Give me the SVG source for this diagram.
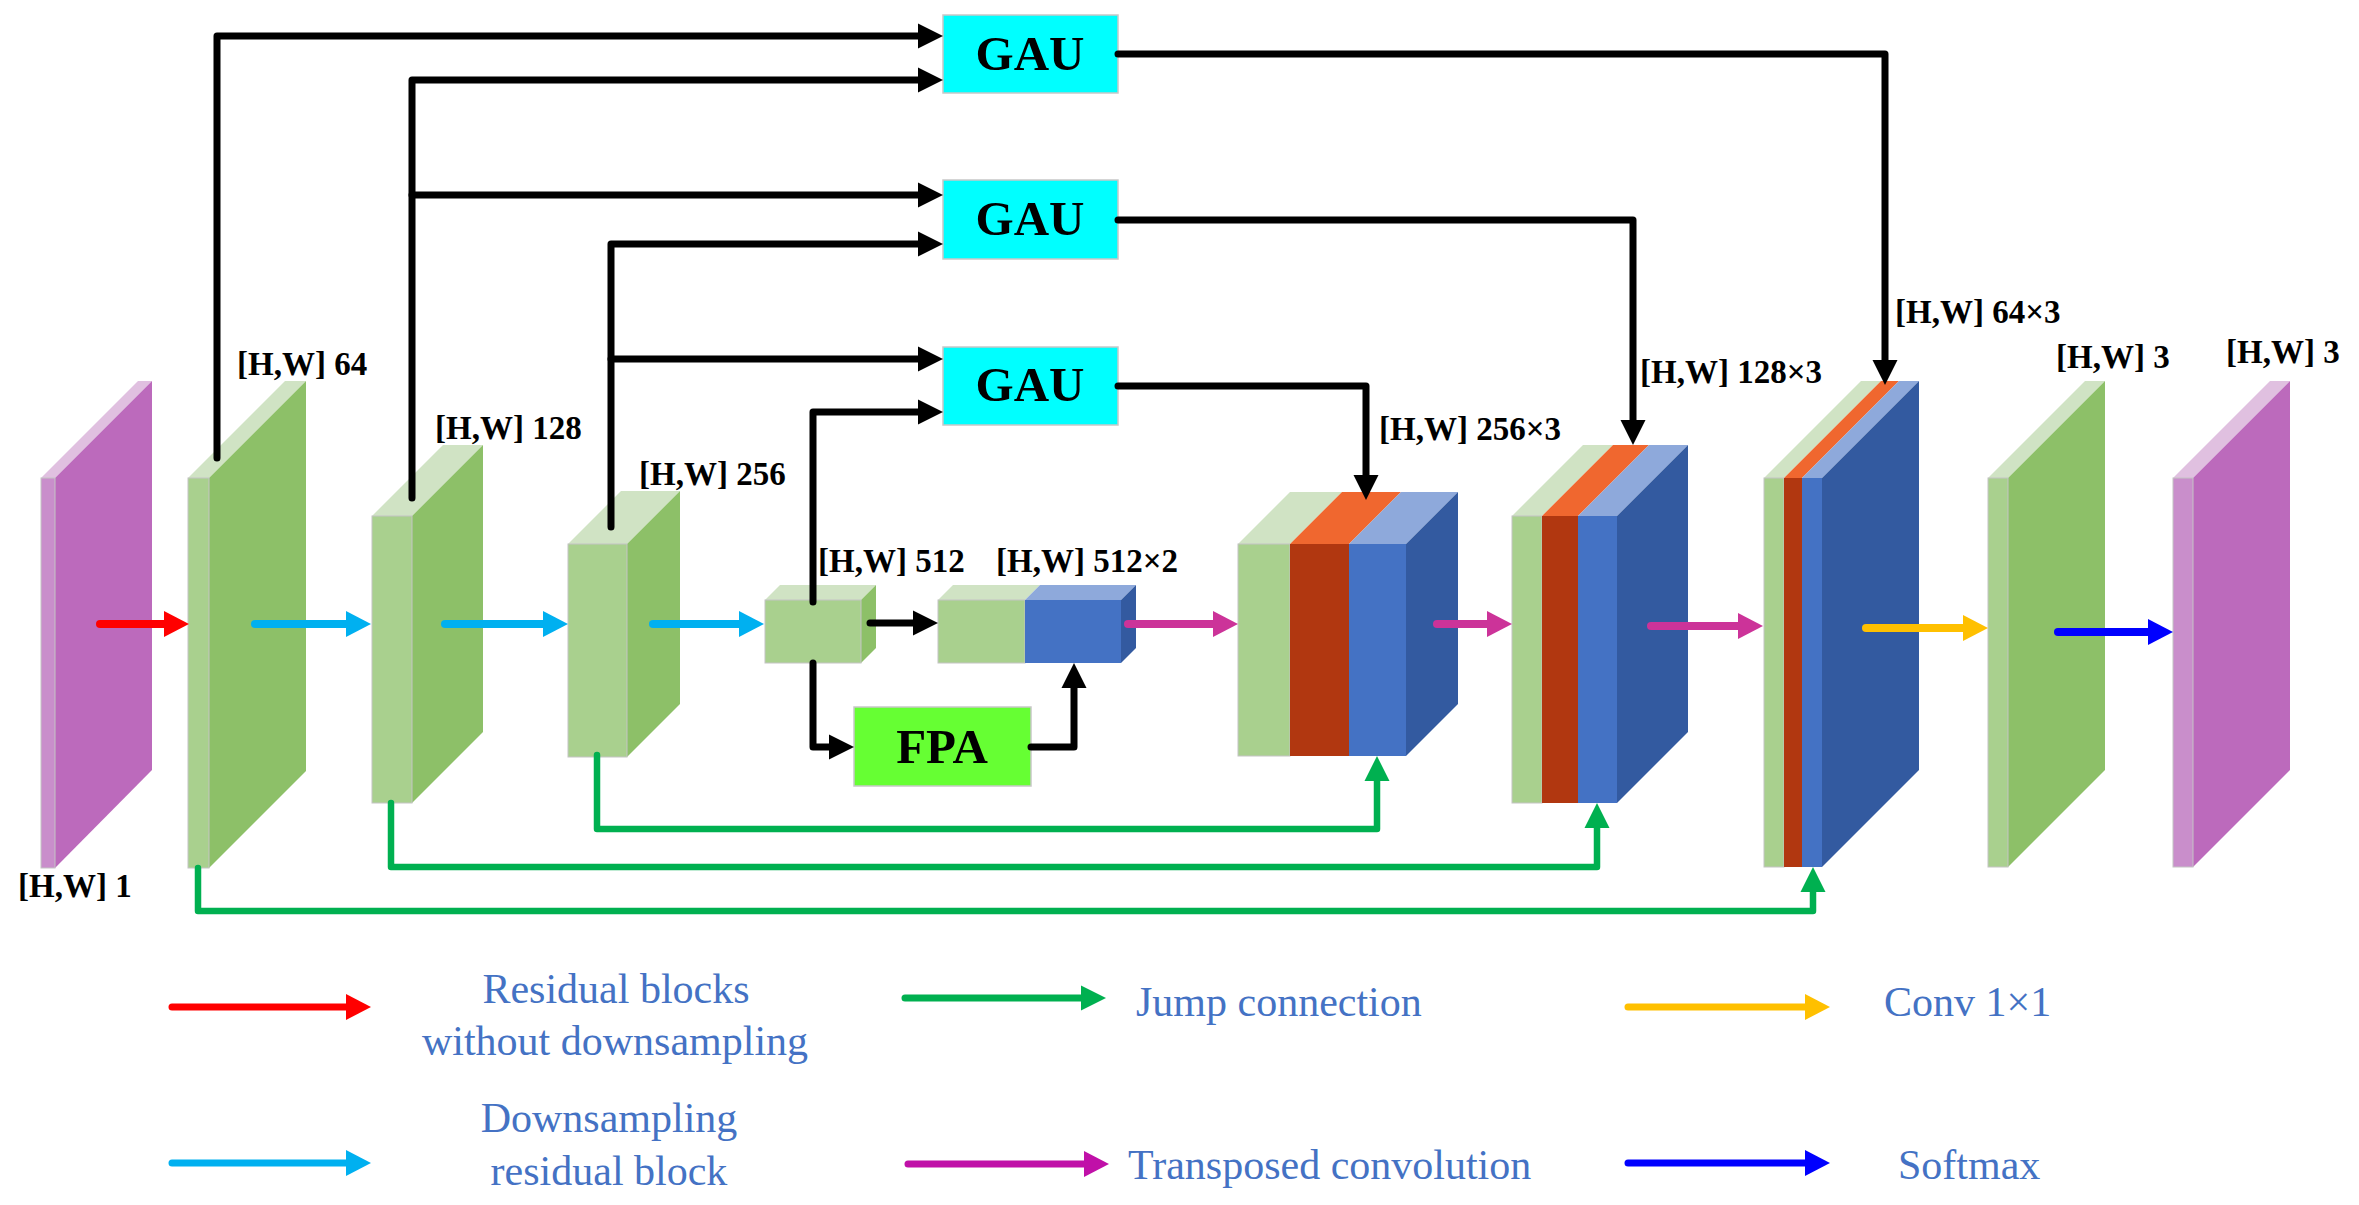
<svg xmlns="http://www.w3.org/2000/svg" width="2359" height="1205" viewBox="0 0 2359 1205">
<style>
.gf{fill:#A9D08E;stroke:#C4C4C4;stroke-width:1}
.gt{fill:#D0E3C4}
.gs{fill:#8DC068}
.pf{fill:#C98ECB;stroke:#C4C4C4;stroke-width:1}
.pt{fill:#E0C0E0}
.ps{fill:#BC6ABC}
.bf{fill:#4472C4}
.bt{fill:#8EA9DB}
.bs{fill:#335AA0}
.rf{fill:#B13710}
.rt{fill:#F0672F}
.lbl{font-family:"Liberation Serif","Times New Roman",serif;font-weight:bold;font-size:33px;fill:#000}
.box{font-family:"Liberation Serif","Times New Roman",serif;font-weight:bold;font-size:49px;fill:#000;text-anchor:middle}
.leg{font-family:"Liberation Serif","Times New Roman",serif;font-size:42px;fill:#4472C4}
.k{fill:none;stroke:#000;stroke-width:7;stroke-linecap:round;stroke-linejoin:round}
.g{fill:none;stroke:#00B050;stroke-width:6.5;stroke-linecap:round;stroke-linejoin:round}
.a{fill:none;stroke-width:8;stroke-linecap:round}
.al{fill:none;stroke-width:7;stroke-linecap:round}
</style>
<defs>
<marker id="mk" markerUnits="userSpaceOnUse" markerWidth="25" markerHeight="25" refX="0" refY="12.5" orient="auto" overflow="visible"><path d="M0,0 L25,12.5 L0,25 z" fill="#000"/></marker>
<marker id="mg" markerUnits="userSpaceOnUse" markerWidth="25" markerHeight="25" refX="0" refY="12.5" orient="auto" overflow="visible"><path d="M0,0 L25,12.5 L0,25 z" fill="#00B050"/></marker>
<marker id="mr" markerUnits="userSpaceOnUse" markerWidth="25" markerHeight="26" refX="0" refY="13" orient="auto" overflow="visible"><path d="M0,0 L25,13 L0,26 z" fill="#FF0000"/></marker>
<marker id="mc" markerUnits="userSpaceOnUse" markerWidth="25" markerHeight="26" refX="0" refY="13" orient="auto" overflow="visible"><path d="M0,0 L25,13 L0,26 z" fill="#00B0F0"/></marker>
<marker id="mm" markerUnits="userSpaceOnUse" markerWidth="25" markerHeight="26" refX="0" refY="13" orient="auto" overflow="visible"><path d="M0,0 L25,13 L0,26 z" fill="#CC3399"/></marker>
<marker id="mm2" markerUnits="userSpaceOnUse" markerWidth="25" markerHeight="26" refX="0" refY="13" orient="auto" overflow="visible"><path d="M0,0 L25,13 L0,26 z" fill="#C010A8"/></marker>
<marker id="my" markerUnits="userSpaceOnUse" markerWidth="25" markerHeight="26" refX="0" refY="13" orient="auto" overflow="visible"><path d="M0,0 L25,13 L0,26 z" fill="#FFC000"/></marker>
<marker id="mb" markerUnits="userSpaceOnUse" markerWidth="25" markerHeight="26" refX="0" refY="13" orient="auto" overflow="visible"><path d="M0,0 L25,13 L0,26 z" fill="#0000FF"/></marker>
</defs>
<rect width="2359" height="1205" fill="#fff"/>

<g id="input">
<polygon class="pt" points="41,478 55,478 152,381 138,381"/>
<polygon class="ps" points="55,478 152,381 152,770 55,868"/>
<rect class="pf" x="41" y="478" width="14" height="390"/>
<text class="lbl" x="18" y="897">[H,W] 1</text>
</g>
<g id="enc64">
<polygon class="gt" points="188,478 209,478 306,381 285,381"/>
<polygon class="gs" points="209,478 306,381 306,771 209,868"/>
<rect class="gf" x="188" y="478" width="21" height="390"/>
<text class="lbl" x="237" y="375">[H,W] 64</text>
</g>
<g id="enc128">
<polygon class="gt" points="372,516 412,516 483,445 443,445"/>
<polygon class="gs" points="412,516 483,445 483,732 412,803"/>
<rect class="gf" x="372" y="516" width="40" height="287"/>
<text class="lbl" x="435" y="439">[H,W] 128</text>
</g>
<g id="enc256">
<polygon class="gt" points="568,544 627,544 680,491 621,491"/>
<polygon class="gs" points="627,544 680,491 680,704 627,757"/>
<rect class="gf" x="568" y="544" width="59" height="213"/>
<text class="lbl" x="639" y="485">[H,W] 256</text>
</g>
<g id="enc512">
<polygon class="gt" points="765,600 861,600 876,585 780,585"/>
<polygon class="gs" points="861,600 876,585 876,648 861,663"/>
<rect class="gf" x="765" y="600" width="96" height="63"/>
<text class="lbl" x="818" y="572">[H,W] 512</text>
</g>
<g id="cat512">
<polygon class="gt" points="938,600 1025,600 1040,585 953,585"/>
<polygon class="bt" points="1025,600 1121,600 1136,585 1040,585"/>
<polygon class="bs" points="1121,600 1136,585 1136,648 1121,663"/>
<rect class="gf" x="938" y="600" width="87" height="63"/>
<rect class="bf" x="1025" y="600" width="96" height="63"/>
<text class="lbl" x="996" y="572">[H,W] 512×2</text>
</g>
<g id="fpa">
<rect x="854" y="707" width="177" height="79" fill="#66FF33" stroke="#C8C8C8" stroke-width="1.5"/>
<text class="box" x="942" y="763">FPA</text>
</g>
<g id="gau1">
<rect x="943" y="15" width="175" height="78" fill="#00FFFF" stroke="#C8C8C8" stroke-width="1.5"/>
<text class="box" x="1030" y="70">GAU</text>
</g>
<g id="gau2">
<rect x="943" y="180" width="175" height="79" fill="#00FFFF" stroke="#C8C8C8" stroke-width="1.5"/>
<text class="box" x="1030" y="235">GAU</text>
</g>
<g id="gau3">
<rect x="943" y="347" width="175" height="78" fill="#00FFFF" stroke="#C8C8C8" stroke-width="1.5"/>
<text class="box" x="1030" y="401">GAU</text>
</g>
<g id="dec256">
<polygon class="gt" points="1238,544 1290,544 1342,492 1290,492"/>
<polygon class="rt" points="1290,544 1349,544 1401,492 1342,492"/>
<polygon class="bt" points="1349,544 1406,544 1458,492 1401,492"/>
<polygon class="bs" points="1406,544 1458,492 1458,704 1406,756"/>
<rect class="gf" x="1238" y="544" width="52" height="212"/>
<rect class="rf" x="1290" y="544" width="59" height="212"/>
<rect class="bf" x="1349" y="544" width="57" height="212"/>
<text class="lbl" x="1379" y="440">[H,W] 256×3</text>
</g>
<g id="dec128">
<polygon class="gt" points="1512,516 1542,516 1613,445 1583,445"/>
<polygon class="rt" points="1542,516 1578,516 1649,445 1613,445"/>
<polygon class="bt" points="1578,516 1617,516 1688,445 1649,445"/>
<polygon class="bs" points="1617,516 1688,445 1688,732 1617,803"/>
<rect class="gf" x="1512" y="516" width="30" height="287"/>
<rect class="rf" x="1542" y="516" width="36" height="287"/>
<rect class="bf" x="1578" y="516" width="39" height="287"/>
<text class="lbl" x="1640" y="383">[H,W] 128×3</text>
</g>
<g id="dec64">
<polygon class="gt" points="1764,478 1784,478 1881,381 1861,381"/>
<polygon class="rt" points="1784,478 1802,478 1899,381 1881,381"/>
<polygon class="bt" points="1802,478 1822,478 1919,381 1899,381"/>
<polygon class="bs" points="1822,478 1919,381 1919,770 1822,867"/>
<rect class="gf" x="1764" y="478" width="20" height="389"/>
<rect class="rf" x="1784" y="478" width="18" height="389"/>
<rect class="bf" x="1802" y="478" width="20" height="389"/>
<text class="lbl" x="1895" y="323">[H,W] 64×3</text>
</g>
<g id="conv3">
<polygon class="gt" points="1988,478 2008,478 2105,381 2085,381"/>
<polygon class="gs" points="2008,478 2105,381 2105,770 2008,867"/>
<rect class="gf" x="1988" y="478" width="20" height="389"/>
<text class="lbl" x="2056" y="368">[H,W] 3</text>
</g>
<g id="output">
<polygon class="pt" points="2173,478 2193,478 2290,381 2270,381"/>
<polygon class="ps" points="2193,478 2290,381 2290,770 2193,867"/>
<rect class="pf" x="2173" y="478" width="20" height="389"/>
<text class="lbl" x="2226" y="363">[H,W] 3</text>
</g>

<g id="connectors">
<path class="k" d="M217,458 V36 H918" marker-end="url(#mk)"/>
<path class="k" d="M412,498 V80 H918" marker-end="url(#mk)"/>
<path class="k" d="M412,195 H918" marker-end="url(#mk)"/>
<path class="k" d="M611,527 V244 H918" marker-end="url(#mk)"/>
<path class="k" d="M611,359 H918" marker-end="url(#mk)"/>
<path class="k" d="M813,602 V412 H918" marker-end="url(#mk)"/>
<path class="k" d="M1118,54 H1885 V360" marker-end="url(#mk)"/>
<path class="k" d="M1118,220 H1633 V420" marker-end="url(#mk)"/>
<path class="k" d="M1118,386 H1366 V475" marker-end="url(#mk)"/>
<path class="k" d="M813,663 V747 H829" marker-end="url(#mk)"/>
<path class="k" d="M1031,747 H1074 V688" marker-end="url(#mk)"/>
<path class="k" d="M870,623 H913" marker-end="url(#mk)"/>
<path class="g" d="M597,755 V829 H1377 V781" marker-end="url(#mg)"/>
<path class="g" d="M391,803 V867 H1597 V828" marker-end="url(#mg)"/>
<path class="g" d="M198,868 V911 H1813 V892" marker-end="url(#mg)"/>
<path class="a" stroke="#FF0000" d="M100,624 H164" marker-end="url(#mr)"/>
<path class="a" stroke="#00B0F0" d="M255,624 H346" marker-end="url(#mc)"/>
<path class="a" stroke="#00B0F0" d="M445,624 H543" marker-end="url(#mc)"/>
<path class="a" stroke="#00B0F0" d="M653,624 H739" marker-end="url(#mc)"/>
<path class="a" stroke="#CC3399" d="M1128,624 H1213" marker-end="url(#mm)"/>
<path class="a" stroke="#CC3399" d="M1437,624 H1487" marker-end="url(#mm)"/>
<path class="a" stroke="#CC3399" d="M1651,626 H1738" marker-end="url(#mm)"/>
<path class="a" stroke="#FFC000" d="M1866,628 H1963" marker-end="url(#my)"/>
<path class="a" stroke="#0000FF" d="M2058,632 H2148" marker-end="url(#mb)"/>
</g>

<g id="legend">
<path class="al" stroke="#FF0000" d="M172,1007 H346" marker-end="url(#mr)"/>
<text class="leg" x="616" y="1003" text-anchor="middle">Residual blocks</text>
<text class="leg" x="615" y="1055" text-anchor="middle">without downsampling</text>
<path class="al" stroke="#00B0F0" d="M172,1163 H346" marker-end="url(#mc)"/>
<text class="leg" x="609" y="1132" text-anchor="middle">Downsampling</text>
<text class="leg" x="609" y="1185" text-anchor="middle">residual block</text>
<path class="al" stroke="#00B050" d="M905,998 H1081" marker-end="url(#mg)"/>
<text class="leg" x="1136" y="1016">Jump connection</text>
<path class="al" stroke="#C010A8" d="M908,1164 H1084" marker-end="url(#mm2)"/>
<text class="leg" x="1128" y="1179">Transposed convolution</text>
<path class="al" stroke="#FFC000" d="M1628,1007 H1805" marker-end="url(#my)"/>
<text class="leg" x="1884" y="1016">Conv 1×1</text>
<path class="al" stroke="#0000FF" d="M1628,1163 H1805" marker-end="url(#mb)"/>
<text class="leg" x="1898" y="1179">Softmax</text>
</g>
</svg>
